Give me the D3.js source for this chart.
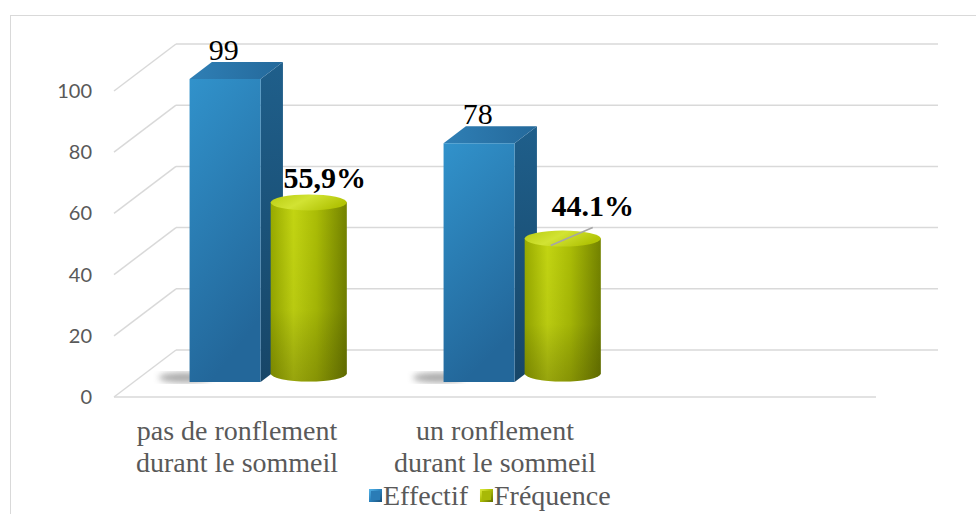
<!DOCTYPE html>
<html lang="fr">
<head>
<meta charset="UTF-8">
<title>Ronflement durant le sommeil</title>
<script src="https://d3js.org/d3.v7.min.js"></script>
<style>
  body { margin: 0; background: #fff; }
  svg { display: block; }
</style>
</head>
<body>
<div id="chart"></div>
<script>
// data
const categories = [["pas de ronflement", "durant le sommeil"], ["un ronflement", "durant le sommeil"], [""]];
const seriesNames = ["Effectif", "Fréquence"];
const effectif = [99, 78];
const frequence = [55.9, 44.1];
const frequenceLabels = ["55,9%", "44.1%"];
const yTicks = [0, 20, 40, 60, 80, 100];

const width = 976, height = 514;
const depthX = 62, depthY = 47; // 3d offset of the back wall
const serif = "'Liberation Serif', 'Times New Roman', serif";

const svg = d3.select("#chart").append("svg")
    .attr("width", width)
    .attr("height", height);

const defs = svg.append("defs");

function linGrad(id, x2, y2, stops) {
    const g = defs.append("linearGradient").attr("id", id)
        .attr("x1", 0).attr("y1", 0).attr("x2", x2).attr("y2", y2);
    stops.forEach(s => g.append("stop").attr("offset", s[0]).attr("stop-color", s[1]));
}
linGrad("blueFront", 0.3, 1, [[0, "#3192cb"], [1, "#23679a"]]);
linGrad("blueSide", 0, 1, [[0, "#1f5f8b"], [1, "#174668"]]);
linGrad("blueTop", 1, 0, [[0, "#2f7fb5"], [1, "#24699b"]]);
linGrad("greenBody", 1, 0, [[0, "#98aa00"], [0.3, "#c3d512"], [0.6, "#abbd06"], [1, "#738200"]]);
linGrad("greenShade", 0, 1, [[0, "rgba(0,0,0,0)"], [0.6, "rgba(0,0,0,0.05)"], [1, "rgba(40,40,0,0.28)"]]);
linGrad("greenTop", 1, 0.4, [[0, "#b8cb10"], [0.5, "#d2e333"], [1, "#b2c406"]]);
linGrad("legBlue", 1, 1, [[0, "#55b6ea"], [0.5, "#2a80bb"], [1, "#1b4f77"]]);
linGrad("legGreen", 1, 1, [[0, "#e0ee40"], [0.5, "#a9ba05"], [1, "#5f6b00"]]);

defs.append("filter").attr("id", "blur")
    .append("feGaussianBlur").attr("stdDeviation", 3);

// outer frame
svg.append("rect")
    .attr("x", 10.5).attr("y", 15.5)
    .attr("width", 1000).attr("height", 600)
    .attr("fill", "none").attr("stroke", "#d9d9d9");

const x = d3.scaleBand().domain(d3.range(categories.length)).range([114, 876]);
const xs = d3.scaleBand().domain(seriesNames).range([55, 200]);
const y = d3.scaleLinear().domain([0, 100]).range([397, 91]);

// projection: front coordinates + depth (0 front, 1 back)
const proj = (px, v, z) => [px + z * depthX, y(v) - z * depthY];
const pts = arr => arr.map(p => p.join(",")).join(" ");

// walls
const grid = svg.append("g").attr("stroke", "#d9d9d9").attr("stroke-width", 1.5).attr("fill", "none");
yTicks.forEach(t => {
    const a = proj(114, t, 0), b = proj(114, t, 1), c = proj(876, t, 1);
    grid.append("line").attr("x1", a[0]).attr("y1", a[1]).attr("x2", b[0]).attr("y2", b[1]);
    grid.append("line").attr("x1", b[0]).attr("y1", b[1]).attr("x2", c[0]).attr("y2", c[1]);
});
grid.append("line")
    .attr("x1", 114).attr("y1", y(0)).attr("x2", 876).attr("y2", y(0));

// y tick labels
svg.append("g").selectAll("text")
    .data(yTicks).join("text")
    .attr("x", 92).attr("y", d => y(d) + 7)
    .attr("text-anchor", "end")
    .attr("font-family", "Lato, 'Liberation Sans', sans-serif")
    .attr("font-size", 20)
    .attr("fill", "#595959")
    .text(d => d);

const bars = svg.append("g");

// Effectif boxes
const z0 = 0.32, z1 = 0.68;
effectif.forEach((v, i) => {
    const bw = xs.bandwidth() * 0.98;
    const x0 = x(i) + xs("Effectif") + (xs.bandwidth() - bw) / 2, x1 = x0 + bw;
    const g = bars.append("g");
    // floor shadow
    const s = proj(x0 - 18, 0, z0 + 0.05);
    g.append("ellipse")
        .attr("cx", s[0] + 10).attr("cy", s[1] - 2)
        .attr("rx", 26).attr("ry", 5)
        .attr("fill", "#555").attr("opacity", 0.5)
        .attr("filter", "url(#blur)");
    g.append("polygon").attr("fill", "url(#blueSide)")
        .attr("points", pts([proj(x1, 0, z0), proj(x1, 0, z1), proj(x1, v, z1), proj(x1, v, z0)]));
    g.append("polygon").attr("fill", "url(#blueTop)")
        .attr("points", pts([proj(x0, v, z0), proj(x1, v, z0), proj(x1, v, z1), proj(x0, v, z1)]));
    g.append("polygon").attr("fill", "url(#blueFront)")
        .attr("points", pts([proj(x0, 0, z0), proj(x1, 0, z0), proj(x1, v, z0), proj(x0, v, z0)]));
    const lp = proj((x0 + x1) / 2, v, 0.3);
    g.append("text")
        .attr("x", lp[0]).attr("y", lp[1] - 20)
        .attr("text-anchor", "middle")
        .attr("font-family", serif)
        .attr("font-size", 30)
        .attr("fill", "#000")
        .text(v);
});

// Fréquence cylinders
const labelShift = [[16, -14], [30, -23]];
frequence.forEach((v, i) => {
    const cxF = x(i) + xs("Fréquence") + xs.bandwidth() / 2;
    const rx = xs.bandwidth() * 0.525, ry = 8;
    const [cx, botY] = proj(cxF, 0, 0.5);
    const topY = proj(cxF, v, 0.5)[1];
    const g = bars.append("g");
    const body = `M${cx - rx},${topY} L${cx - rx},${botY} A${rx},${ry} 0 0 0 ${cx + rx},${botY} L${cx + rx},${topY} Z`;
    g.append("path").attr("d", body).attr("fill", "url(#greenBody)");
    g.append("path").attr("d", body).attr("fill", "url(#greenShade)");
    g.append("ellipse")
        .attr("cx", cx).attr("cy", topY).attr("rx", rx).attr("ry", ry)
        .attr("fill", "url(#greenTop)");
    const [dx, dy] = labelShift[i];
    if (i === 1) {
        g.append("line")
            .attr("x1", cx - 12).attr("y1", topY + 7)
            .attr("x2", cx + dx).attr("y2", topY - 11)
            .attr("stroke", "#a6a6a6").attr("stroke-width", 1.5);
    }
    g.append("text")
        .attr("x", cx + dx).attr("y", topY + dy)
        .attr("text-anchor", "middle")
        .attr("font-family", serif)
        .attr("font-size", 30)
        .attr("font-weight", "bold")
        .attr("fill", "#000")
        .text(frequenceLabels[i]);
});

// category labels
svg.append("g").selectAll("text")
    .data(categories).join("text")
    .attr("x", (d, i) => x(i) + x.bandwidth() / 2 - (i === 0 ? 4 : 0))
    .attr("y", 440)
    .attr("text-anchor", "middle")
    .attr("font-family", serif)
    .attr("font-size", 28)
    .attr("fill", "#595959")
    .selectAll("tspan")
    .data(d => d)
    .join("tspan")
    .attr("x", function () { return d3.select(this.parentNode).attr("x"); })
    .attr("dy", (d, i) => i === 0 ? 0 : 32)
    .text(d => d);

// legend
const legend = svg.append("g").attr("transform", "translate(369,489)");
let lx = 0;
seriesNames.forEach((name, i) => {
    const lg = legend.append("g").attr("transform", `translate(${lx},0)`);
    lg.append("rect").attr("width", 13).attr("height", 13)
        .attr("fill", i === 0 ? "url(#legBlue)" : "url(#legGreen)");
    lg.append("rect").attr("x", 2).attr("y", 2).attr("width", 9).attr("height", 9)
        .attr("fill", i === 0 ? "#2a7cb6" : "#a8b906");
    const t = lg.append("text")
        .attr("x", 14).attr("y", 16)
        .attr("font-family", serif)
        .attr("font-size", 28)
        .attr("fill", "#595959")
        .text(name);
    lx += 14 + t.node().getComputedTextLength() + 12;
});
</script>
</body>
</html>
